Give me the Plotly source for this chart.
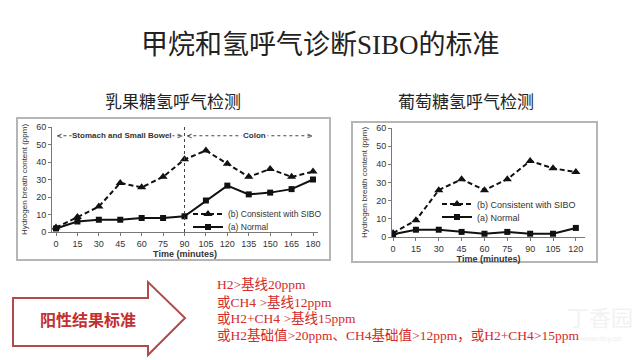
import plotly.graph_objects as go

# the page places the figure 8px from the top-left corner of the window
OFF = 8
W, H = 640 - OFF, 360 - OFF

# ---------------- data ----------------
lac_time = [0, 15, 30, 45, 60, 75, 90, 105, 120, 135, 150, 165, 180]
lac_sibo = [2.5, 8.5, 14.5, 28, 25.5, 31.5, 41.5, 46.5, 39, 31.5, 36, 31.5, 34.5]
lac_normal = [2, 6, 7, 7, 8, 8, 9, 18, 26.5, 21.5, 22.5, 24.5, 30]

glu_time = [0, 15, 30, 45, 60, 75, 90, 105, 120]
glu_sibo = [2.2, 9.2, 25.8, 31.8, 25.8, 31.8, 41.9, 37.8, 35.8]
glu_normal = [1.5, 4, 4, 2.8, 1.8, 2.8, 1.8, 1.8, 5]

y_ticks = [0, 10, 20, 30, 40, 50, 60]
sibo_label = "(b) Consistent with SIBO"
normal_label = "(a) Normal"
y_title = "Hydrogen breath content (ppm)"
x_title = "Time (minutes)"

main_title = "甲烷和氢呼气诊断SIBO的标准"
left_sub = "乳果糖氢呼气检测"
right_sub = "葡萄糖氢呼气检测"
arrow_label = "阳性结果标准"
criteria = [
    "H2>基线20ppm",
    "或CH4 >基线12ppm",
    "或H2+CH4 >基线15ppm",
    "或H2基础值>20ppm、CH4基础值>12ppm，或H2+CH4>15ppm",
]


def px(x):
    return (x - OFF) / W


def py(y):
    return 1 - (y - OFF) / H


fig = go.Figure()

sibo_line = dict(color="#111", width=2, dash="5px,3px")
normal_line = dict(color="#111", width=2)
tri = dict(symbol="triangle-up", size=8, color="#111")
sq = dict(symbol="square", size=6, color="#111")

fig.add_trace(go.Scatter(x=lac_time, y=lac_sibo, name=sibo_label, mode="lines+markers",
                         line=sibo_line, marker=tri, xaxis="x", yaxis="y", legend="legend"))
fig.add_trace(go.Scatter(x=lac_time, y=lac_normal, name=normal_label, mode="lines+markers",
                         line=normal_line, marker=sq, xaxis="x", yaxis="y", legend="legend2"))
fig.add_trace(go.Scatter(x=glu_time, y=glu_sibo, name=sibo_label, mode="lines+markers",
                         line=sibo_line, marker=tri, xaxis="x2", yaxis="y2", legend="legend3"))
fig.add_trace(go.Scatter(x=glu_time, y=glu_normal, name=normal_label, mode="lines+markers",
                         line=normal_line, marker=sq, xaxis="x2", yaxis="y2", legend="legend4"))

tickfont = dict(family="Liberation Sans, Arial", size=9, color="#333")
axis_common = dict(showgrid=False, zeroline=False, showline=True, linecolor="#777",
                   linewidth=1, ticks="outside", ticklen=3, tickcolor="#777",
                   tickfont=tickfont, automargin=False)
xt = dict(text="<b>" + x_title + "</b>", font=dict(size=9, color="#333",
          family="Liberation Sans, Arial"), standoff=2)
yt = dict(text=y_title, font=dict(size=8, color="#333",
          family="Liberation Sans, Arial"), standoff=7)


def leg(x, y, size):
    return dict(x=px(x), y=py(y), xanchor="left", yanchor="middle", xref="paper", yref="paper",
                bgcolor="rgba(0,0,0,0)", itemwidth=30, tracegroupgap=0,
                font=dict(size=size, color="#333", family="Liberation Sans, Arial"))


fig.update_layout(
    width=W, height=H,
    margin=dict(l=0, r=0, t=0, b=0, autoexpand=False),
    paper_bgcolor="white", plot_bgcolor="white",
    xaxis=dict(domain=[px(52), px(318)], range=[-2.8, 183.5], anchor="y",
               tickvals=lac_time, title=xt, **axis_common),
    yaxis=dict(domain=[py(232), py(127)], range=[0, 60], anchor="x", tickvals=y_ticks,
               title=yt, **axis_common),
    xaxis2=dict(domain=[px(392), px(585)], range=[-0.7, 126], anchor="y2",
                tickvals=glu_time, title=xt, **axis_common),
    yaxis2=dict(domain=[py(237), py(128)], range=[0, 60], anchor="x2", tickvals=y_ticks,
                title=yt, **axis_common),
    legend=leg(188, 214, 8.5),
    legend2=leg(188, 227, 8.5),
    legend3=leg(437, 204, 9),
    legend4=leg(437, 217, 9),
    showlegend=True,
)

shapes = []
shapes.append(dict(type="rect", xref="paper", yref="paper", x0=px(17), x1=px(330),
                   y0=py(260), y1=py(118), line=dict(color="#b5b5b5", width=2), layer="below"))
shapes.append(dict(type="rect", xref="paper", yref="paper", x0=px(352), x1=px(597),
                   y0=py(262), y1=py(122), line=dict(color="#b5b5b5", width=2), layer="below"))
shapes.append(dict(type="line", xref="x", yref="y", x0=90, x1=90, y0=0, y1=60,
                   line=dict(color="#444", width=1, dash="dot")))
shapes.append(dict(type="line", xref="x", yref="y", x0=1, x1=88, y0=55, y1=55,
                   line=dict(color="#444", width=1, dash="dot")))
shapes.append(dict(type="line", xref="x", yref="y", x0=92, x1=179, y0=55, y1=55,
                   line=dict(color="#444", width=1, dash="dot")))
arrow_pts = [(13, 298), (148, 298), (148, 282), (185, 318), (148, 355), (148, 346), (13, 346)]
path = "M " + " L ".join(f"{px(x):.4f},{py(y):.4f}" for x, y in arrow_pts) + " Z"
shapes.append(dict(type="path", xref="paper", yref="paper", path=path,
                   line=dict(color="#b24a4a", width=2), fillcolor="white"))
fig.update_layout(shapes=shapes)


def txt(text, x, y, size, color, family, xanchor="center", **kw):
    return dict(text=text, x=px(x), y=py(y), xref="paper", yref="paper", showarrow=False,
                xanchor=xanchor, yanchor="middle",
                font=dict(size=size, color=color, family=family), **kw)


ann = []
ann.append(txt(main_title, 320, 45, 27, "#222", "Liberation Serif, Noto Sans CJK SC"))
ann.append(txt(left_sub, 173, 100, 17, "#222", "Noto Sans CJK SC"))
ann.append(txt(right_sub, 466, 100, 17, "#222", "Noto Sans CJK SC"))

lab_font = dict(size=8, color="#333", family="Liberation Sans, Arial")
ann.append(dict(text="<b>Stomach and Small Bowel</b>", x=46, y=55, xref="x", yref="y",
                xanchor="center", yanchor="middle",
                showarrow=False, bgcolor="white", font=lab_font, borderpad=0))
ann.append(dict(text="<b>Colon</b>", x=139, y=55, xref="x", yref="y",
                xanchor="center", yanchor="middle",
                showarrow=False, bgcolor="white", font=lab_font, borderpad=1))
for xv, s, anc in [(0, "<", "left"), (89, ">", "right"), (91, "<", "left"), (180, ">", "right")]:
    ann.append(dict(text=s, x=xv, y=55, xref="x", yref="y", showarrow=False,
                    xanchor=anc, yanchor="middle", borderpad=0,
                    font=dict(size=9, color="#444", family="Liberation Sans, Arial")))
ann.append(txt("<b>" + arrow_label + "</b>", 88, 319, 16, "#c42f2f", "Noto Sans CJK SC"))
for line_text, yy in zip(criteria, [284, 302, 318, 335]):
    ann.append(txt(line_text, 215, yy, 13.5, "#d42a2a",
                   "Liberation Serif, Noto Sans CJK SC", xanchor="left"))
ann.append(txt("丁香园", 600, 316, 22, "#f2f2f2", "Noto Sans CJK SC"))
ann.append(txt("www.dxy.cn", 600, 338, 8, "#eeeeee", "Liberation Sans"))
fig.update_layout(annotations=ann)

fig.write_html("out.html")
